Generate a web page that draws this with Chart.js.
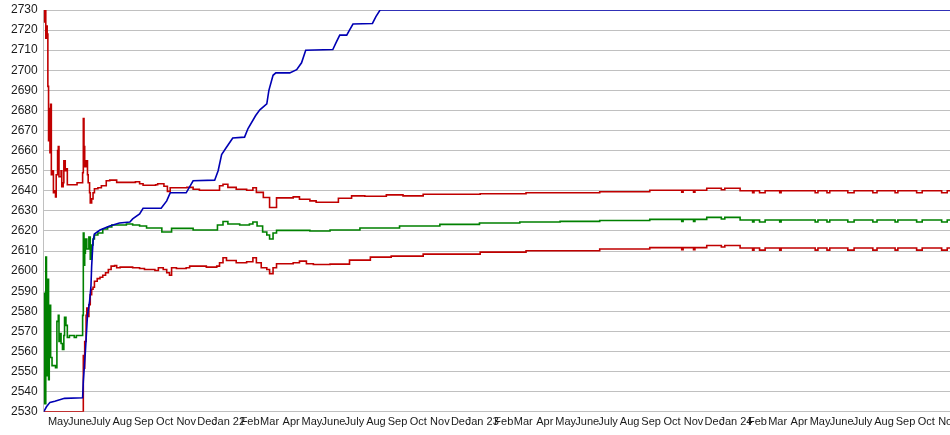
<!DOCTYPE html>
<html>
<head>
<meta charset="utf-8">
<script src="https://cdn.jsdelivr.net/npm/chart.js@4.4.1/dist/chart.umd.min.js"></script>
<style>
  html, body { margin: 0; padding: 0; background: #fff; }
</style>
</head>
<body>
<canvas id="ratingChart" width="950" height="435"></canvas>
<script>
// x values are days counted from the first day on the axis (10 Apr 2021)
const START = Date.UTC(2021, 3, 10);
const LAST_DAY = 1304;

const tickLabels = ['May', 'June', 'July', 'Aug', 'Sep', 'Oct', 'Nov', 'Dec',
  'Jan 22', 'Feb', 'Mar', 'Apr', 'May', 'June', 'July', 'Aug', 'Sep', 'Oct', 'Nov', 'Dec',
  'Jan 23', 'Feb', 'Mar', 'Apr', 'May', 'June', 'July', 'Aug', 'Sep', 'Oct', 'Nov', 'Dec',
  'Jan 24', 'Feb', 'Mar', 'Apr', 'May', 'June', 'July', 'Aug', 'Sep', 'Oct', 'Nov'];

// [day, value]
const upperBand = [[0, 2730], [1, 2724], [2, 2730], [3, 2716], [4, 2722], [5, 2718], [6, 2692],
  [7, 2665], [8, 2681], [9, 2659], [10, 2683], [11, 2648], [12, 2650], [14, 2639], [16, 2640],
  [17, 2637], [18, 2648], [20, 2660], [21, 2662], [22, 2647], [25, 2650], [26, 2642], [28, 2644],
  [29, 2655], [31, 2650], [32, 2651], [34, 2643], [47, 2643], [48, 2644], [56, 2649], [57, 2676],
  [58, 2662], [59, 2652], [60, 2655], [61, 2652], [62, 2655], [63, 2648], [64, 2644], [66, 2639],
  [67, 2634], [69, 2636], [71, 2639], [73, 2641], [78, 2641.5], [83, 2642.5], [90, 2645],
  [95, 2645.3], [105, 2644.2], [132, 2644.5], [138, 2643.5], [143, 2642.8], [161, 2643],
  [164, 2643.5], [173, 2642.3], [178, 2639.7], [182, 2641.5], [206, 2641.7], [215, 2640.8],
  [224, 2640.3], [253, 2642.5], [258, 2643.3], [265, 2641.7], [277, 2640.8], [292, 2640.3],
  [301, 2641.5], [306, 2639.2], [316, 2636.7], [325, 2631.7], [335, 2636.5], [359, 2637],
  [368, 2635.8], [383, 2635], [392, 2634.3], [424, 2636.3], [443, 2637.5], [462, 2637.3],
  [493, 2638], [517, 2637.5], [546, 2638.3], [628, 2638.5], [694, 2639], [800, 2639.5],
  [872, 2640.3], [918, 2639.3], [920, 2640.3], [935, 2639.3], [937, 2640.3], [954, 2641.3],
  [975, 2640.5], [980, 2641.3], [1002, 2640], [1020, 2639], [1022, 2640], [1030, 2639],
  [1038, 2640], [1059, 2639], [1061, 2640], [1110, 2639], [1114, 2640], [1127, 2639],
  [1131, 2640], [1157, 2639], [1166, 2640], [1193, 2639], [1199, 2640], [1225, 2639],
  [1229, 2640], [1256, 2639], [1264, 2640], [1292, 2639], [1300, 2640], [1304, 2640]];

const rating = [[0, 2589], [1, 2534], [3, 2607], [4, 2548], [5, 2596], [7, 2546], [8, 2583],
  [10, 2557], [12, 2553], [17, 2552], [19, 2575], [21, 2578], [22, 2565], [24, 2569], [25, 2564],
  [27, 2561], [29, 2568], [30, 2577], [32, 2573], [34, 2567], [37, 2568], [44, 2567], [47, 2568],
  [56, 2578], [57, 2619], [58, 2603], [59, 2609], [60, 2616], [62, 2611], [65, 2617], [67, 2606],
  [69, 2613], [71, 2616], [73, 2618], [78, 2619], [85, 2621], [92, 2622], [98, 2623],
  [119, 2623.5], [128, 2623], [138, 2622.5], [148, 2621.5], [170, 2619.5], [184, 2621.3],
  [215, 2620.5], [250, 2623], [258, 2624.7], [265, 2623.5], [282, 2623], [296, 2623.5],
  [301, 2624.5], [307, 2622.5], [315, 2619.5], [321, 2618], [325, 2616], [330, 2619],
  [335, 2620.3], [383, 2620], [412, 2620.5], [455, 2621.5], [512, 2622.5], [570, 2623.3],
  [627, 2624], [685, 2624.5], [743, 2624.8], [800, 2625.2], [872, 2625.8], [918, 2624.8],
  [920, 2625.8], [935, 2624.8], [937, 2625.8], [954, 2626.8], [975, 2626], [980, 2626.8],
  [1002, 2625.5], [1020, 2624.5], [1022, 2625.5], [1030, 2624.5], [1038, 2625.5], [1059, 2624.5],
  [1061, 2625.5], [1110, 2624.5], [1114, 2625.5], [1127, 2624.5], [1131, 2625.5], [1157, 2624.5],
  [1166, 2625.5], [1193, 2624.5], [1199, 2625.5], [1225, 2624.5], [1229, 2625.5], [1256, 2624.5],
  [1264, 2625.5], [1292, 2624.5], [1300, 2625.5], [1304, 2625.5]];

const lowerBand = [[0, 2530], [57, 2558], [58, 2551.7], [59, 2565], [61, 2578], [62, 2581.7],
  [64, 2577.5], [65, 2583.3], [67, 2588.3], [69, 2591], [71, 2592], [73, 2595], [77, 2596.3],
  [81, 2597], [85, 2598], [89, 2599.2], [93, 2600.8], [97, 2602.5], [102, 2602.8], [105, 2601.7],
  [110, 2602], [128, 2601.7], [138, 2601.3], [145, 2600.8], [160, 2600.3], [165, 2601.7],
  [172, 2600.8], [177, 2599.2], [181, 2598], [184, 2601.7], [191, 2601.3], [205, 2601.7],
  [210, 2602.5], [234, 2602], [249, 2602.5], [253, 2604.2], [258, 2606.7], [263, 2605.3],
  [277, 2604.2], [292, 2604.7], [301, 2606.7], [306, 2604.2], [313, 2601.7], [321, 2600.8],
  [325, 2598.8], [330, 2601.7], [335, 2603.7], [359, 2604.2], [368, 2605], [378, 2603.7],
  [388, 2603.3], [412, 2603.5], [440, 2605.5], [470, 2607], [500, 2607.5], [546, 2608.5],
  [628, 2609.5], [694, 2610.2], [800, 2611], [872, 2611.7], [918, 2610.7], [920, 2611.7],
  [935, 2610.7], [937, 2611.7], [954, 2612.8], [975, 2612], [980, 2612.8], [1002, 2611.5],
  [1020, 2610.5], [1022, 2611.5], [1030, 2610.5], [1038, 2611.5], [1059, 2610.5], [1061, 2611.5],
  [1110, 2610.5], [1114, 2611.5], [1127, 2610.5], [1131, 2611.5], [1157, 2610.5], [1166, 2611.5],
  [1193, 2610.5], [1199, 2611.5], [1225, 2610.5], [1229, 2611.5], [1256, 2610.5], [1264, 2611.5],
  [1292, 2610.5], [1300, 2611.5], [1304, 2611.5]];

const peak = [[0, 2530], [4, 2532.5], [9, 2534.7], [16, 2535.3], [30, 2536.7], [56, 2537],
  [57, 2545], [60, 2560], [63, 2578], [66, 2585], [68, 2592.5], [69, 2602.5], [71, 2615],
  [73, 2618.5], [81, 2620.5], [95, 2622.5], [109, 2624], [124, 2624.5], [128, 2626], [138, 2628.5],
  [143, 2631.3], [169, 2631.3], [177, 2635], [182, 2639], [205, 2639], [215, 2645], [246, 2645.3],
  [251, 2650], [256, 2658], [263, 2661.7], [272, 2666.3], [289, 2666.7], [294, 2671], [305, 2677.5],
  [311, 2680.3], [321, 2683.3], [324, 2690], [330, 2697.5], [334, 2698.7], [354, 2698.7],
  [364, 2700.3], [371, 2703.7], [377, 2710], [416, 2710.3], [421, 2714], [426, 2717.5],
  [436, 2717.5], [440, 2720], [445, 2723], [473, 2723.3], [478, 2726.7], [484, 2730], [1304, 2730]];

// first of each month, as a day number on the axis
const tickDays = tickLabels.map((_, i) => (Date.UTC(2021, 4 + i, 1) - START) / 86400000);

const toXY = arr => arr.map(p => ({ x: p[0], y: p[1] }));

const ctx = document.getElementById('ratingChart').getContext('2d');

new Chart(ctx, {
    type: 'line',
    data: {
        datasets: [
            { data: toXY(peak), borderColor: '#0000b4', stepped: false },
            { data: toXY(upperBand), borderColor: '#c00000', stepped: true },
            { data: toXY(rating), borderColor: '#008000', stepped: true },
            { data: toXY(lowerBand), borderColor: '#c00000', stepped: true }
        ]
    },
    options: {
        responsive: false,
        animation: false,
        events: [],
        layout: {
            autoPadding: false,
            padding: { left: 5, top: 10, right: 0, bottom: 2 }
        },
        elements: {
            point: { radius: 0 },
            line: { borderWidth: 1.6, tension: 0 }
        },
        plugins: {
            legend: { display: false },
            tooltip: { enabled: false }
        },
        scales: {
            x: {
                type: 'linear',
                min: 0,
                max: LAST_DAY,
                grid: { display: false, drawTicks: false },
                border: { display: false },
                afterBuildTicks: axis => {
                    axis.ticks = tickDays.map(v => ({ value: v }));
                },
                // let the last month label run off the edge like the original
                afterFit: axis => {
                    axis.paddingLeft = 0;
                    axis.paddingRight = 0;
                },
                ticks: {
                    autoSkip: false,
                    maxRotation: 0,
                    padding: 4,
                    color: '#1a1a1a',
                    font: { family: "'Liberation Sans', Arial, sans-serif", size: 11 },
                    callback: (value, index) => tickLabels[index]
                }
            },
            y: {
                min: 2530,
                max: 2730,
                grid: { color: '#c0c0c0', drawTicks: false },
                border: { color: '#c0c0c0' },
                afterFit: axis => {
                    axis.paddingTop = 0;
                    axis.paddingBottom = 0;
                },
                ticks: {
                    stepSize: 10,
                    padding: 6,
                    color: '#1a1a1a',
                    font: { family: "'Liberation Sans', Arial, sans-serif", size: 12 },
                    callback: value => String(value)
                }
            }
        }
    }
});
</script>
</body>
</html>
